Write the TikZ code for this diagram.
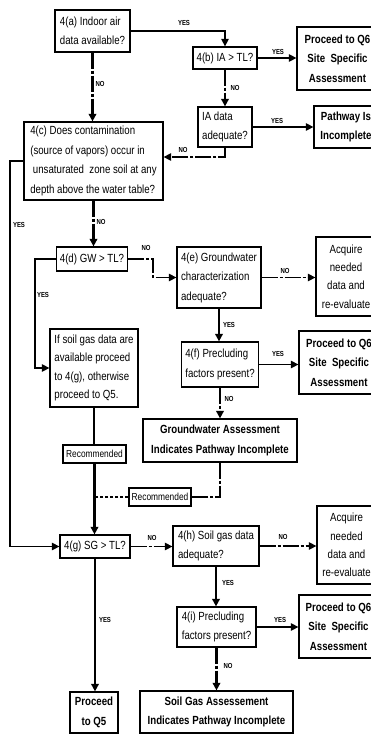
\documentclass[tikz,border=0pt]{standalone}
\usepackage{fontspec}
\setmainfont{Liberation Sans}[FakeStretch=0.82]
\usetikzlibrary{arrows.meta}

\tikzset{
  sz/.style 2 args={minimum width=#1pt, minimum height=#2pt},
  bx/.style={draw, line width=1.25pt, inner xsep=2pt, inner ysep=1pt,
    font=\fontsize{11.8}{19.5}\selectfont},
  bxl/.style={bx, align=left},
  bxc/.style={bx, align=center},
  bxs/.style={bx, align=center, font=\fontsize{11.8}{18.3}\selectfont},
  bxsl/.style={bx, align=left, font=\fontsize{11.8}{18.3}\selectfont},
  bxb/.style={bx, align=center, font=\bfseries\fontsize{11.8}{19.5}\selectfont},
  rec/.style={draw, line width=1.1pt, inner sep=1pt, font=\fontsize{10.2}{11}\selectfont},
  lab/.style={font=\bfseries\fontsize{7.3}{8}\selectfont, inner sep=0pt},
  link/.style={line width=1.25pt},
  arr/.style={link, -{Triangle[length=7.5pt,width=7.5pt]}},
  heavy/.style={line width=2.2pt},
  noline/.style={dash pattern=on 16pt off 2pt on 3pt off 2pt},
  shortdash/.style={dash pattern=on 3.5pt off 1.5pt},
}

\begin{document}
\begin{tikzpicture}[x=1pt,y=-1pt]
\path[use as bounding box, fill=white] (0,0) rectangle (371,736);
\clip (0,0) rectangle (371,736);

% ---- boxes ----
\node[bxl, sz={75}{42}] (A) at (92.5,31) {4(a) Indoor air\\data available?};
\node[bxc, sz={64}{22}] (B) at (225,58) {4(b) IA > TL?};
\node[bxb, sz={81}{63}] (Q1) at (337.5,58.5) {Proceed to Q6\\Site\ \ Specific\\Assessment};
\node[bxl, sz={54}{40}] (IA) at (225,127) {IA data\\adequate?};
\node[bxb, sz={64}{42}] (PW) at (346,127) {Pathway Is\\Incomplete};
\node[bxl, sz={139}{78}] (C) at (93.5,161) {4(c) Does contamination\\(source of vapors) occur in\\\ unsaturated\ \ zone soil at any\\depth above the water table?};
\node[bxc, sz={71}{24}] (D) at (92,259) {4(d) GW > TL?};
\node[bxl, sz={84}{61}] (E) at (219,277.5) {4(e) Groundwater\\characterization\\adequate?};
\node[bxs, sz={60}{79}] (AQ1) at (346,276.5) {Acquire\\needed\\data and\\re-evaluate};
\node[bxsl, sz={88}{78}] (SG) at (94,368) {If soil gas data are\\available proceed\\to 4(g), otherwise\\proceed to Q5.};
\node[bxl, sz={77}{45}] (F) at (220,364.5) {4(f) Precluding\\factors present?};
\node[bxb, sz={80}{63}] (Q2) at (339,362.5) {Proceed to Q6\\Site\ \ Specific\\Assessment};
\node[bxb, sz={154}{43}] (GW) at (220,440.5) {Groundwater Assessment\\Indicates Pathway Incomplete};
\node[rec, sz={63}{18}] (RU) at (94.5,454) {Recommended};
\node[rec, sz={62}{18}] (RL) at (160,497) {Recommended};
\node[bxc, sz={70}{23}] (G) at (95,546.5) {4(g) SG > TL?};
\node[bxl, sz={86}{40}] (H) at (216,546) {4(h) Soil gas data\\adequate?};
\node[bxs, sz={59}{78}] (AQ2) at (346.5,545) {Acquire\\needed\\data and\\re-evaluate};
\node[bxl, sz={79}{40}] (I) at (216.5,627) {4(i) Precluding\\factors present?};
\node[bxb, sz={79}{63}] (Q3) at (338.5,626.5) {Proceed to Q6\\Site\ \ Specific\\Assessment};
\node[bxb, sz={48}{41}] (Q5) at (94,712.5) {Proceed\\to Q5};
\node[bxb, sz={153}{42}] (SGA) at (216.5,712) {Soil Gas Assessement\\Indicates Pathway Incomplete};

% ---- bends of routed connectors ----
\coordinate (iaturn) at (225,157);
\coordinate (cleft) at (10,161);
\coordinate (dturn) at (153,259);
\coordinate (dleft) at (35,259);
\coordinate (join) at (94.5,497);

% ---- connectors ----
\draw[arr] (A.east) -| (B.north);
\draw[arr] (B.east) -- (B.east -| Q1.west);
\draw[arr, heavy, noline] (B.south) -- (IA.north);
\draw[arr] (IA.east) -- (IA.east -| PW.west);
\draw[arr, noline] (IA.south) -- (iaturn) -- (C.east |- iaturn);
\draw[arr, heavy, noline] (A.south) -- (A.south |- C.north);
\draw[arr] (C.west) -- (cleft) |- (G.west);
\draw[arr, heavy, noline] (C.south) -- (C.south |- D.north);
\draw[arr, noline] (D.east) -- (dturn) |- (E.west);
\draw[arr, noline] (E.east) -- (E.east -| AQ1.west);
\draw[arr] (D.west) -- (dleft) |- (SG.west);
\draw[arr, heavy] (E.south) -- (E.south |- F.north);
\draw[arr] (F.east) -- (F.east -| Q2.west);
\draw[arr, heavy, noline] (F.south) -- (F.south |- GW.north);
\draw[link] (SG.south) -- (SG.south |- RU.north);
\draw[arr, heavy] (RU.south) -- (RU.south |- G.north);
\draw[link, heavy, noline] (GW.south) |- (RL.east);
\draw[link, shortdash] (RL.west) -- (join);
\draw[arr, noline] (G.east) -- (G.east -| H.west);
\draw[arr, noline] (H.east) -- (H.east -| AQ2.west);
\draw[arr, heavy] (H.south) -- (H.south |- I.north);
\draw[arr] (I.east) -- (I.east -| Q3.west);
\draw[arr, heavy, noline] (I.south) -- (I.south |- SGA.north);
\draw[arr, heavy] (G.south) -- (G.south |- Q5.north);

% ---- branch labels ----
\node[lab] (l1) at (184,23) {YES};
\node[lab] (l2) at (278,52) {YES};
\node[lab] (l3) at (235,88) {NO};
\node[lab] (l4) at (277,121) {YES};
\node[lab] (l5) at (183,150) {NO};
\node[lab] (l6) at (100,84) {NO};
\node[lab] (l7) at (19,225) {YES};
\node[lab] (l8) at (101,222) {NO};
\node[lab] (l9) at (146,248) {NO};
\node[lab] (l10) at (285,271) {NO};
\node[lab] (l11) at (43,295) {YES};
\node[lab] (l12) at (229,325) {YES};
\node[lab] (l13) at (278,354) {YES};
\node[lab] (l14) at (229,399) {NO};
\node[lab] (l15) at (152,538) {NO};
\node[lab] (l16) at (283,537) {NO};
\node[lab] (l17) at (228,583) {YES};
\node[lab] (l18) at (280,620) {YES};
\node[lab] (l19) at (228,666) {NO};
\node[lab] (l20) at (105,620) {YES};
\end{tikzpicture}
\end{document}
